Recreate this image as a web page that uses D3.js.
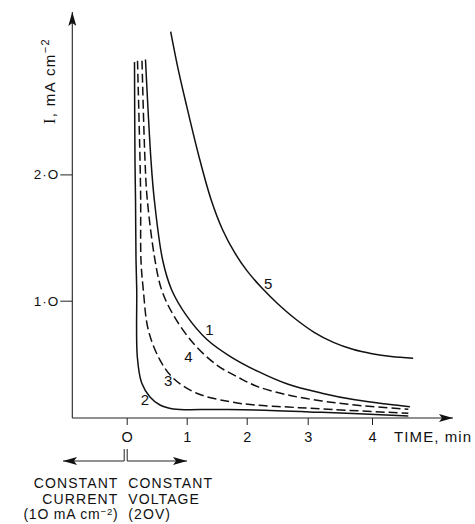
<!DOCTYPE html>
<html><head><meta charset="utf-8">
<script src="https://cdn.jsdelivr.net/npm/d3@7"></script>
<style>body{margin:0;background:#fff} svg{display:block}</style>
</head><body><svg id="c" width="475" height="524"></svg>
<script>
// ---- data ----
const xTicks = [0, 1, 2, 3, 4];
const xTickLabels = ["O", "1", "2", "3", "4"];
const yTicks = [1, 2];
const yTickLabels = ["1·O", "2·O"];

const curve1Time    = [0.313, 0.405, 0.46, 0.60, 0.75, 1.0, 1.333, 1.722, 2.185, 2.68, 3.22, 3.735, 4.25, 4.59];
const curve1Current = [2.91, 2.11, 1.80, 1.32, 1.085, 0.88, 0.695, 0.56, 0.44, 0.338, 0.268, 0.215, 0.180, 0.161];
const curve2Time    = [0.13, 0.138, 0.147, 0.155, 0.167, 0.177, 0.25, 0.388, 0.555, 0.777, 1.47, 2.136, 3.22, 4.565];
const curve2Current = [2.89, 2.11, 1.80, 1.33, 1.09, 0.554, 0.348, 0.238, 0.174, 0.143, 0.139, 0.135, 0.116, 0.087];
const curve3Time    = [0.18, 0.222, 0.233, 0.238, 0.277, 0.36, 0.555, 0.777, 1.167, 1.72, 2.136, 2.68, 3.22, 4.565];
const curve3Current = [2.90, 2.11, 1.80, 1.32, 1.085, 0.768, 0.530, 0.386, 0.267, 0.200, 0.174, 0.158, 0.143, 0.108];
const curve4Time    = [0.255, 0.305, 0.343, 0.472, 0.583, 0.777, 1.11, 1.5, 1.888, 2.19, 2.68, 3.22, 3.735, 4.565];
const curve4Current = [2.90, 2.11, 1.80, 1.32, 1.085, 0.887, 0.663, 0.491, 0.386, 0.318, 0.253, 0.206, 0.174, 0.140];
const curve5Time    = [0.733, 0.85, 1.0, 1.2, 1.4, 1.6, 1.8, 2.0, 2.25, 2.5, 2.8, 3.1, 3.4, 3.7, 4.0, 4.3, 4.64];
const curve5Current = [3.13, 2.85, 2.54, 2.15, 1.81, 1.56, 1.38, 1.24, 1.10, 0.98, 0.855, 0.75, 0.67, 0.615, 0.58, 0.558, 0.545];

const curveNames   = ["1", "2", "3", "4", "5"];
const curveDashed  = [false, false, true, true, false];
const labelTime    = [1.38, 0.305, 0.693, 1.027, 2.35];
const labelCurrent = [0.77, 0.214, 0.372, 0.556, 1.139];

const leftNote  = ["CONSTANT", "CURRENT"];
const rightNote = ["CONSTANT", "VOLTAGE"];

// ---- layout ----
const svg = d3.select("#c");
const FONT = "'Liberation Sans', Arial, sans-serif";
const axisX = 72.3, axisY = 418, yTop = 12, xRight = 453;

const x = d3.scaleLinear().domain(xTicks).range([126.7, 186.7, 246.7, 307.7, 372]);
const y = d3.scaleLinear().domain([0, 2]).range([427, 174.4]);

const series = [
  d3.zip(curve1Time, curve1Current),
  d3.zip(curve2Time, curve2Current),
  d3.zip(curve3Time, curve3Current),
  d3.zip(curve4Time, curve4Current),
  d3.zip(curve5Time, curve5Current)
];

// arrow marker
const defs = svg.append("defs");
defs.append("marker").attr("id", "arr").attr("viewBox", "0 0 14 8")
  .attr("refX", 14).attr("refY", 4).attr("markerWidth", 14).attr("markerHeight", 8)
  .attr("markerUnits", "userSpaceOnUse").attr("orient", "auto")
  .append("path").attr("d", "M0,0 L14,4 L0,8 L3,4 Z").attr("fill", "#111");

// axes lines
svg.append("line").attr("x1", axisX).attr("y1", axisY).attr("x2", axisX).attr("y2", yTop)
  .attr("stroke", "#222").attr("stroke-width", 1.1).attr("marker-end", "url(#arr)");
svg.append("line").attr("x1", axisX).attr("y1", axisY).attr("x2", xRight).attr("y2", axisY)
  .attr("stroke", "#222").attr("stroke-width", 1.1).attr("marker-end", "url(#arr)");

// x axis ticks
const gx = svg.append("g").attr("transform", `translate(0,${axisY})`)
  .call(d3.axisBottom(x).tickValues(xTicks).tickFormat((d, i) => xTickLabels[i]).tickSize(7).tickPadding(4));
gx.select(".domain").remove();
gx.selectAll(".tick line").attr("stroke", "#222");
gx.selectAll(".tick text").attr("font-family", FONT).attr("font-size", 14.5).attr("fill", "#111")
  .attr("y", 23.7).attr("dy", 0);

// y axis ticks
const gy = svg.append("g").attr("transform", `translate(${axisX},0)`)
  .call(d3.axisLeft(y).tickValues(yTicks).tickFormat((d, i) => yTickLabels[i]).tickSize(12).tickPadding(1));
gy.select(".domain").remove();
gy.selectAll(".tick line").attr("stroke", "#222");
gy.selectAll(".tick text").attr("font-family", FONT).attr("font-size", 13.5).attr("fill", "#111")
  .attr("letter-spacing", 1);

// axis titles
const yl = svg.append("text").attr("transform", "translate(55,81) rotate(-90)")
  .attr("text-anchor", "middle").attr("font-family", FONT).attr("font-size", 15)
  .attr("letter-spacing", 1.4).attr("fill", "#111");
yl.append("tspan").attr("font-family", "'Liberation Serif', serif").attr("font-size", 16).text("I");
yl.append("tspan").text(", mA cm");
yl.append("tspan").attr("font-size", 11).attr("dy", -6).text("−2");

svg.append("text").attr("x", 394).attr("y", 441.7).attr("font-family", FONT)
  .attr("font-size", 15).attr("letter-spacing", 1.1).attr("fill", "#111").text("TIME, min");

// curves
const line = d3.line().x(d => x(d[0])).y(d => y(d[1])).curve(d3.curveCatmullRom.alpha(0.5));
svg.append("g").selectAll("path").data(series).join("path")
  .attr("d", line).attr("fill", "none").attr("stroke", "#111").attr("stroke-width", 1.5)
  .attr("stroke-dasharray", (d, i) => curveDashed[i] ? "9,4" : null);

// curve labels
svg.append("g").selectAll("text").data(curveNames).join("text")
  .attr("x", (d, i) => x(labelTime[i])).attr("y", (d, i) => y(labelCurrent[i]))
  .attr("text-anchor", "middle").attr("dominant-baseline", "central")
  .attr("font-family", FONT).attr("font-size", 15).attr("fill", "#111").text(d => d);

// bottom annotation
const zx = x(0);
svg.append("line").attr("x1", zx - 2.5).attr("x2", zx - 2.5).attr("y1", 449).attr("y2", 461).attr("stroke", "#222");
svg.append("line").attr("x1", zx + 0.5).attr("x2", zx + 0.5).attr("y1", 449).attr("y2", 461).attr("stroke", "#222");
svg.append("line").attr("x1", zx - 2.5).attr("x2", 63).attr("y1", 461).attr("y2", 461)
  .attr("stroke", "#222").attr("marker-end", "url(#arr)");
svg.append("line").attr("x1", zx + 0.5).attr("x2", 187).attr("y1", 461).attr("y2", 461)
  .attr("stroke", "#222").attr("marker-end", "url(#arr)");

const noteY = [487.7, 503.5];
leftNote.forEach((t, i) => svg.append("text").attr("x", 118.5).attr("y", noteY[i])
  .attr("text-anchor", "end").attr("font-family", FONT).attr("font-size", 14)
  .attr("letter-spacing", 1.1).attr("fill", "#111").text(t));
rightNote.forEach((t, i) => svg.append("text").attr("x", 128.3).attr("y", noteY[i])
  .attr("font-family", FONT).attr("font-size", 14)
  .attr("letter-spacing", 1.1).attr("fill", "#111").text(t));

const l3 = svg.append("text").attr("x", 118.5).attr("y", 519).attr("text-anchor", "end")
  .attr("font-family", FONT).attr("font-size", 14).attr("letter-spacing", 0.8).attr("fill", "#111");
l3.append("tspan").text("(1O mA cm");
l3.append("tspan").attr("font-size", 9.5).attr("dy", -4).text("−2");
l3.append("tspan").attr("dy", 4).text(")");
svg.append("text").attr("x", 128.3).attr("y", 519).attr("font-family", FONT).attr("font-size", 14)
  .attr("letter-spacing", 1.1).attr("fill", "#111").text("(2OV)");
</script></body></html>
